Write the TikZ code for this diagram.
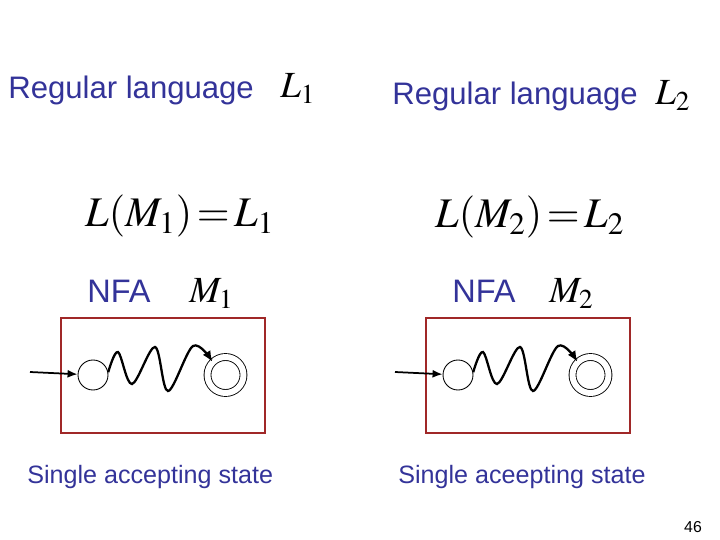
\documentclass[tikz,border=0pt]{standalone}
\usepackage[no-math]{fontspec}
\usepackage{mathptmx}
\setmainfont{Liberation Sans}
\usetikzlibrary{arrows.meta}
\definecolor{slideblue}{RGB}{51,51,153}
\definecolor{boxred}{RGB}{160,40,40}
\newcommand\eqfont{\fontsize{24}{28}\selectfont\thickmuskip=2mu\relax}
\tikzset{
  regtext/.style={text=slideblue, font=\fontsize{17.7}{20}\selectfont, inner sep=0pt, anchor=base west},
  nfatext/.style={regtext, font=\fontsize{18.5}{21}\selectfont},
  captext/.style={regtext, font=\fontsize{14.3}{17}\selectfont},
  mathtext/.style={inner sep=0pt, anchor=base west, font=\fontsize{21}{24}\selectfont},
  eqtext/.style={mathtext, font=\eqfont},
  nfabox/.style={draw=boxred, line width=0.6pt, minimum width=4.08cm, minimum height=2.3cm, inner sep=0pt},
  state/.style={circle, draw, line width=0.5pt, minimum size=0.6cm, inner sep=0pt},
  accepting/.style={minimum size=0.72cm, double, double distance=0.12cm},
  startarrow/.style={line width=1pt, -{Latex[length=2mm,width=1.6mm]}},
  runpath/.style={line width=1.3pt, -{Latex[length=2.2mm,width=1.8mm]}}
}
\begin{document}
\begin{tikzpicture}[x=0.02cm,y=-0.02cm]
\useasboundingbox (0,0) rectangle (720,540);

% languages
\node[regtext] (reg1) at (8,99) {Regular language};
\node[mathtext] (lang1) at (280,98) {$L_1$};
\node[regtext] (reg2) at (392,105) {Regular language};
\node[mathtext] (lang2) at (655,105) {$L_2$};

\node[eqtext] (eq1) at (85,227) {$L(M_1)=L_1$};
\node[eqtext] (eq2) at (435,228) {$L(M_2)=L_2$};

% machines
\node[nfatext] (nfa1) at (87,303) {NFA};
\node[mathtext] (mach1) at (189,303) {$M_1$};
\node[nfatext] (nfa2) at (452,303) {NFA};
\node[mathtext] (mach2) at (549,303) {$M_2$};

\foreach \i/\dx in {1/0,2/365}{
  \node[nfabox] (box\i) at ({163+\dx},375.5) {};
  \node[state] (init\i) at ({93+\dx},375) {};
  \node[state,accepting] (acc\i) at ({225.5+\dx},375) {};
  \coordinate (in\i) at ({30+\dx},372);
  \draw[startarrow] (in\i) -- (init\i);
  \draw[runpath] plot[smooth,tension=0.55] coordinates {(init\i.10) ({118+\dx},352) ({132+\dx},384) ({155+\dx},347) ({168+\dx},391) ({193+\dx},346) (acc\i.135)};
}

\node[captext] (cap1) at (27,483) {Single accepting state};
\node[captext] (cap2) at (398,483) {Single aceepting state};

\node[font=\fontsize{9}{10}\selectfont] (page) at (693,527) {46};
\end{tikzpicture}
\end{document}
